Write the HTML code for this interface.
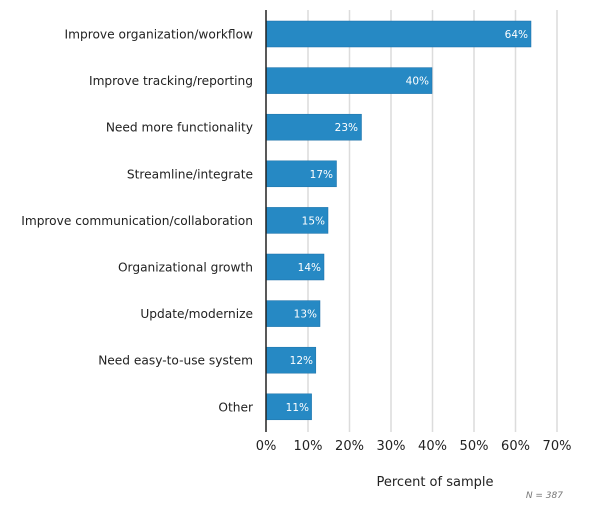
<!DOCTYPE html><html><head><style>body{margin:0;background:#fff}</style></head><body>
<svg width="600" height="516" xmlns="http://www.w3.org/2000/svg" font-family="DejaVu Sans, Verdana, sans-serif">
<g stroke="#dcdcdc" stroke-width="1.5">
<line x1="308" y1="10" x2="308" y2="432"/><line x1="349.5" y1="10" x2="349.5" y2="432"/><line x1="391" y1="10" x2="391" y2="432"/><line x1="432.5" y1="10" x2="432.5" y2="432"/><line x1="474" y1="10" x2="474" y2="432"/><line x1="515.5" y1="10" x2="515.5" y2="432"/><line x1="557" y1="10" x2="557" y2="432"/>
</g>
<g fill="#2689c4" stroke="#1a6fa8" stroke-width="0.5">
<rect x="266" y="21" width="265" height="26"/>
<rect x="266" y="67.6" width="166" height="26"/>
<rect x="266" y="114.2" width="95.5" height="26"/>
<rect x="266" y="160.8" width="70.5" height="26"/>
<rect x="266" y="207.4" width="62" height="26"/>
<rect x="266" y="254" width="58" height="26"/>
<rect x="266" y="300.6" width="54" height="26"/>
<rect x="266" y="347.2" width="49.8" height="26"/>
<rect x="266" y="393.8" width="45.6" height="26"/>
</g>
<line x1="266" y1="10" x2="266" y2="432" stroke="#222" stroke-width="1.5"/>
<g fill="#fff" font-size="10.5" text-anchor="end">
<text x="528" y="38">64%</text><text x="429" y="84.6">40%</text><text x="358" y="131.2">23%</text><text x="333" y="177.8">17%</text><text x="325" y="224.4">15%</text><text x="321" y="271">14%</text><text x="317" y="317.6">13%</text><text x="313" y="364.2">12%</text><text x="309" y="410.8">11%</text>
</g>
<g fill="#222" font-size="12.2" text-anchor="end">
<text x="253" y="38.5">Improve organization/workflow</text>
<text x="253" y="85">Improve tracking/reporting</text>
<text x="253" y="131.7">Need more functionality</text>
<text x="253" y="178.3">Streamline/integrate</text>
<text x="253" y="224.9">Improve communication/collaboration</text>
<text x="253" y="271.5">Organizational growth</text>
<text x="253" y="318.1">Update/modernize</text>
<text x="253" y="364.7">Need easy-to-use system</text>
<text x="253" y="411.3">Other</text>
</g>
<g fill="#222" font-size="13" text-anchor="middle">
<text x="266" y="450">0%</text><text x="308" y="450">10%</text><text x="349.5" y="450">20%</text><text x="391" y="450">30%</text><text x="432.5" y="450">40%</text><text x="474" y="450">50%</text><text x="515.5" y="450">60%</text><text x="557" y="450">70%</text>
<text x="435" y="486">Percent of sample</text>
</g>
<text x="563" y="498" font-size="9" font-style="italic" fill="#777" text-anchor="end">N = 387</text>
</svg>
</body></html>
